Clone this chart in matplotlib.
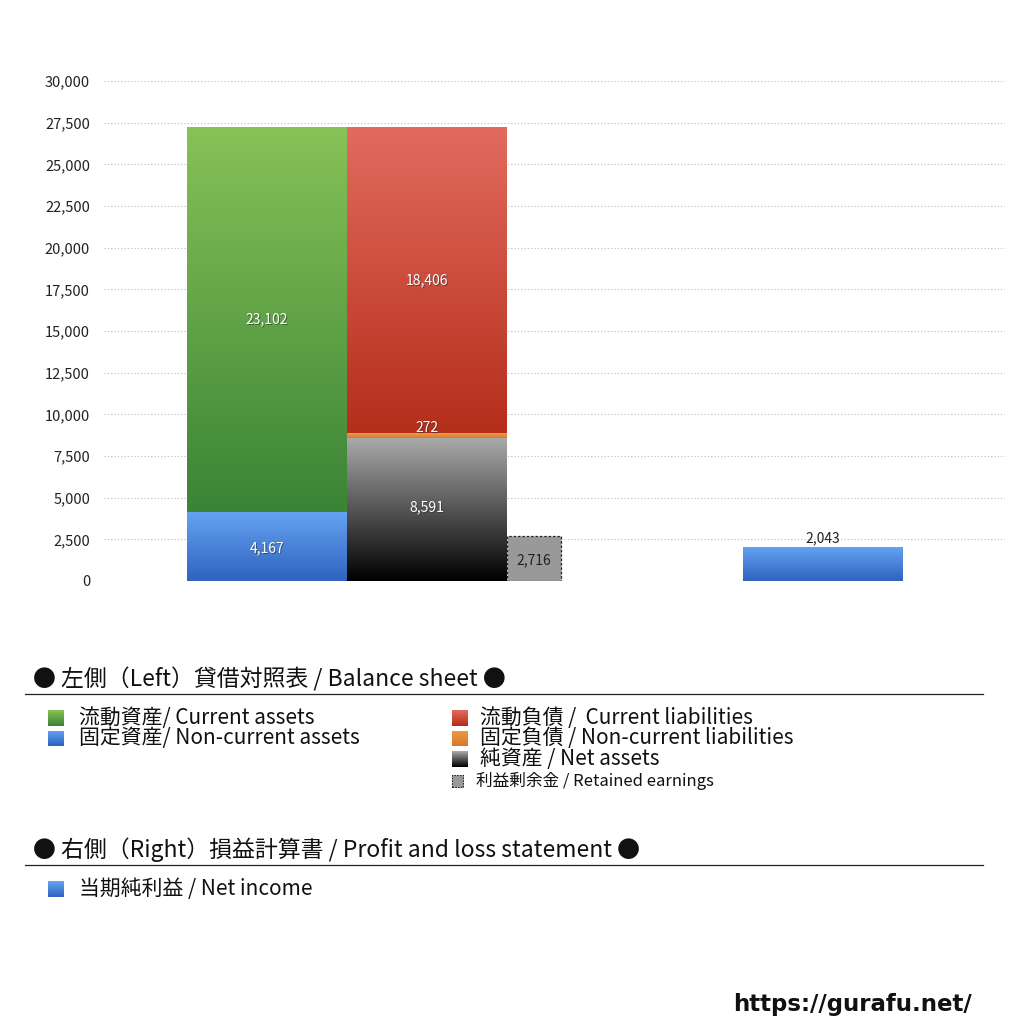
import numpy as np
import matplotlib
matplotlib.use("Agg")
import matplotlib.pyplot as plt
from matplotlib.colors import LinearSegmentedColormap
from matplotlib.patches import Rectangle
from matplotlib.ticker import FuncFormatter

plt.rcParams['font.family'] = ['Noto Sans CJK JP', 'DejaVu Sans']

# ---- data ----
groups = ["貸借対照表", "損益計算書"]
current_assets = 23102
noncurrent_assets = 4167
current_liabilities = 18406
noncurrent_liabilities = 272
net_assets = 8591
retained_earnings = 2716
net_income = 2043

y_ticks = [0, 2500, 5000, 7500, 10000, 12500, 15000, 17500, 20000, 22500, 25000, 27500, 30000]

legend_left = ["流動資産/ Current assets", "固定資産/ Non-current assets"]
legend_right = ["流動負債 /  Current liabilities", "固定負債 / Non-current liabilities",
                "純資産 / Net assets"]
legend_re = "利益剰余金 / Retained earnings"
legend_pl = ["当期純利益 / Net income"]
header_bs = "● 左側（Left）貸借対照表 / Balance sheet ●"
header_pl = "● 右側（Right）損益計算書 / Profit and loss statement ●"

# ---- styles ----
C_GREEN = ("#3a8436", "#88c257")
C_BLUE = ("#2e63be", "#66a3f2")
C_RED = ("#b52e1a", "#e26b5f")
C_ORANGE = ("#d9782a", "#ee9a45")
C_BLACK = ("#000000", "#aaaaaa")
C_GRAY = "#999999"

W = 1024
fig = plt.figure(figsize=(10.24, 10.24), dpi=100)
fig.patch.set_facecolor("white")

ax = fig.add_axes([104 / W, 1 - 581 / W, (1005 - 104) / W, (581 - 81) / W])
for s in ax.spines.values():
    s.set_visible(False)

x = np.arange(len(groups))
bw = 0.336
rw = 0.1134


def grad_bar(ax, left, bottom, height, width, colors, zorder=2):
    bars = ax.bar(left, height, width, bottom=bottom, align='edge',
                  color='none', edgecolor='none', zorder=zorder)
    cmap = LinearSegmentedColormap.from_list('g', list(colors))
    grad = np.linspace(0, 1, 256).reshape(-1, 1)
    im = ax.imshow(grad, extent=[left, left + width, bottom, bottom + height],
                   origin='lower', cmap=cmap, aspect='auto', zorder=zorder,
                   interpolation='bilinear')
    im.set_clip_path(bars[0])
    return bars


def value_label(ax, xc, yc, v, color='white'):
    txt = f"{v:,}"
    if color == 'white':
        ax.text(xc + 0.002, yc - 60, txt, ha='center', va='center', fontsize=10,
                color='#333333', alpha=0.6, zorder=5)
    ax.text(xc, yc, txt, ha='center', va='center', fontsize=10, color=color, zorder=6)


# Left group: assets
g0 = x[0]
grad_bar(ax, g0 - bw, 0, noncurrent_assets, bw, C_BLUE)
grad_bar(ax, g0 - bw, noncurrent_assets, current_assets, bw, C_GREEN)
value_label(ax, g0 - bw / 2, noncurrent_assets / 2 - 100, noncurrent_assets)
value_label(ax, g0 - bw / 2, noncurrent_assets + current_assets / 2, current_assets)

# liabilities + net assets
grad_bar(ax, g0, 0, net_assets, bw, C_BLACK)
grad_bar(ax, g0, net_assets, noncurrent_liabilities, bw, C_ORANGE)
grad_bar(ax, g0, net_assets + noncurrent_liabilities, current_liabilities, bw, C_RED)
value_label(ax, g0 + bw / 2, net_assets / 2 + 150, net_assets)
value_label(ax, g0 + bw / 2, net_assets + noncurrent_liabilities + 300, noncurrent_liabilities)
value_label(ax, g0 + bw / 2, net_assets + noncurrent_liabilities + current_liabilities / 2,
            current_liabilities)

# retained earnings
ax.bar(g0 + bw, retained_earnings, rw, bottom=0, align='edge', color=C_GRAY,
       edgecolor='#222222', linestyle=(0, (2, 1.5)), linewidth=0.9, zorder=3)
ax.text(g0 + bw + rw / 2, retained_earnings / 2 - 100, f"{retained_earnings:,}",
        ha='center', va='center', fontsize=10, color='#222222', zorder=6)

# Right group: net income
g1 = x[1]
grad_bar(ax, g1 - bw / 2, 0, net_income, bw, C_BLUE)
ax.text(g1, net_income + 120, f"{net_income:,}", ha='center', va='bottom',
        fontsize=10, color='#222222', zorder=6)

ax.set_xlim(-0.5105, 1.382)
ax.set_ylim(0, 30000)
ax.set_yticks(y_ticks)
ax.yaxis.set_major_formatter(FuncFormatter(lambda v, p: f"{int(v):,}"))
ax.tick_params(axis='y', length=0, pad=10, labelsize=10.5, labelcolor='#222222')
ax.set_xticks([])
ax.grid(axis='y', color='#bbbbbb', linestyle=(0, (1, 2)), linewidth=0.8, zorder=0)
ax.set_axisbelow(True)


# ---- legend area ----
def fy(py):
    return 1 - py / W


def swatch(px, py, colors, size=16, dashed=False):
    a = fig.add_axes([px / W, fy(py + size / 2), size / W, size / W])
    a.set_axis_off()
    if dashed:
        a.add_patch(Rectangle((0.05, 0.05), 0.9, 0.9, facecolor=C_GRAY, edgecolor='#222222',
                              linestyle=(0, (1.5, 1)), linewidth=0.8, transform=a.transAxes))
        a.set_xlim(0, 1); a.set_ylim(0, 1)
    else:
        cmap = LinearSegmentedColormap.from_list('s', list(colors))
        a.imshow(np.linspace(0, 1, 64).reshape(-1, 1), origin='lower', cmap=cmap,
                 aspect='auto', extent=[0, 1, 0, 1])


fig.text(33 / W, fy(679), header_bs, fontsize=16.5, va='center', ha='left', color='#111111')
fig.add_artist(plt.Line2D([25 / W, 983 / W], [fy(694), fy(694)], color='#222222', linewidth=0.9))

left_colors = [C_GREEN, C_BLUE]
for i, (lab, col) in enumerate(zip(legend_left, left_colors)):
    py = 718 + i * 20.5
    swatch(48, py, col)
    fig.text(79 / W, fy(py), lab, fontsize=15, va='center', ha='left', color='#111111')

right_colors = [C_RED, C_ORANGE, C_BLACK]
for i, (lab, col) in enumerate(zip(legend_right, right_colors)):
    py = 718 + i * 20.5
    swatch(452, py, col)
    fig.text(480 / W, fy(py), lab, fontsize=15, va='center', ha='left', color='#111111')

swatch(451, 781, None, size=13, dashed=True)
fig.text(476 / W, fy(781), legend_re, fontsize=12, va='center', ha='left', color='#111111')

fig.text(33 / W, fy(850), header_pl, fontsize=16.5, va='center', ha='left', color='#111111')
fig.add_artist(plt.Line2D([25 / W, 983 / W], [fy(865), fy(865)], color='#222222', linewidth=0.9))
for i, lab in enumerate(legend_pl):
    py = 889 + i * 20.5
    swatch(48, py, C_BLUE)
    fig.text(79 / W, fy(py), lab, fontsize=15, va='center', ha='left', color='#111111')

fig.text(972 / W, fy(1004), "https://gurafu.net/", fontsize=16.5, fontweight='bold',
         va='center', ha='right', color='#111111', family=['DejaVu Sans'])

fig.savefig("out.png", dpi=100, facecolor='white')
